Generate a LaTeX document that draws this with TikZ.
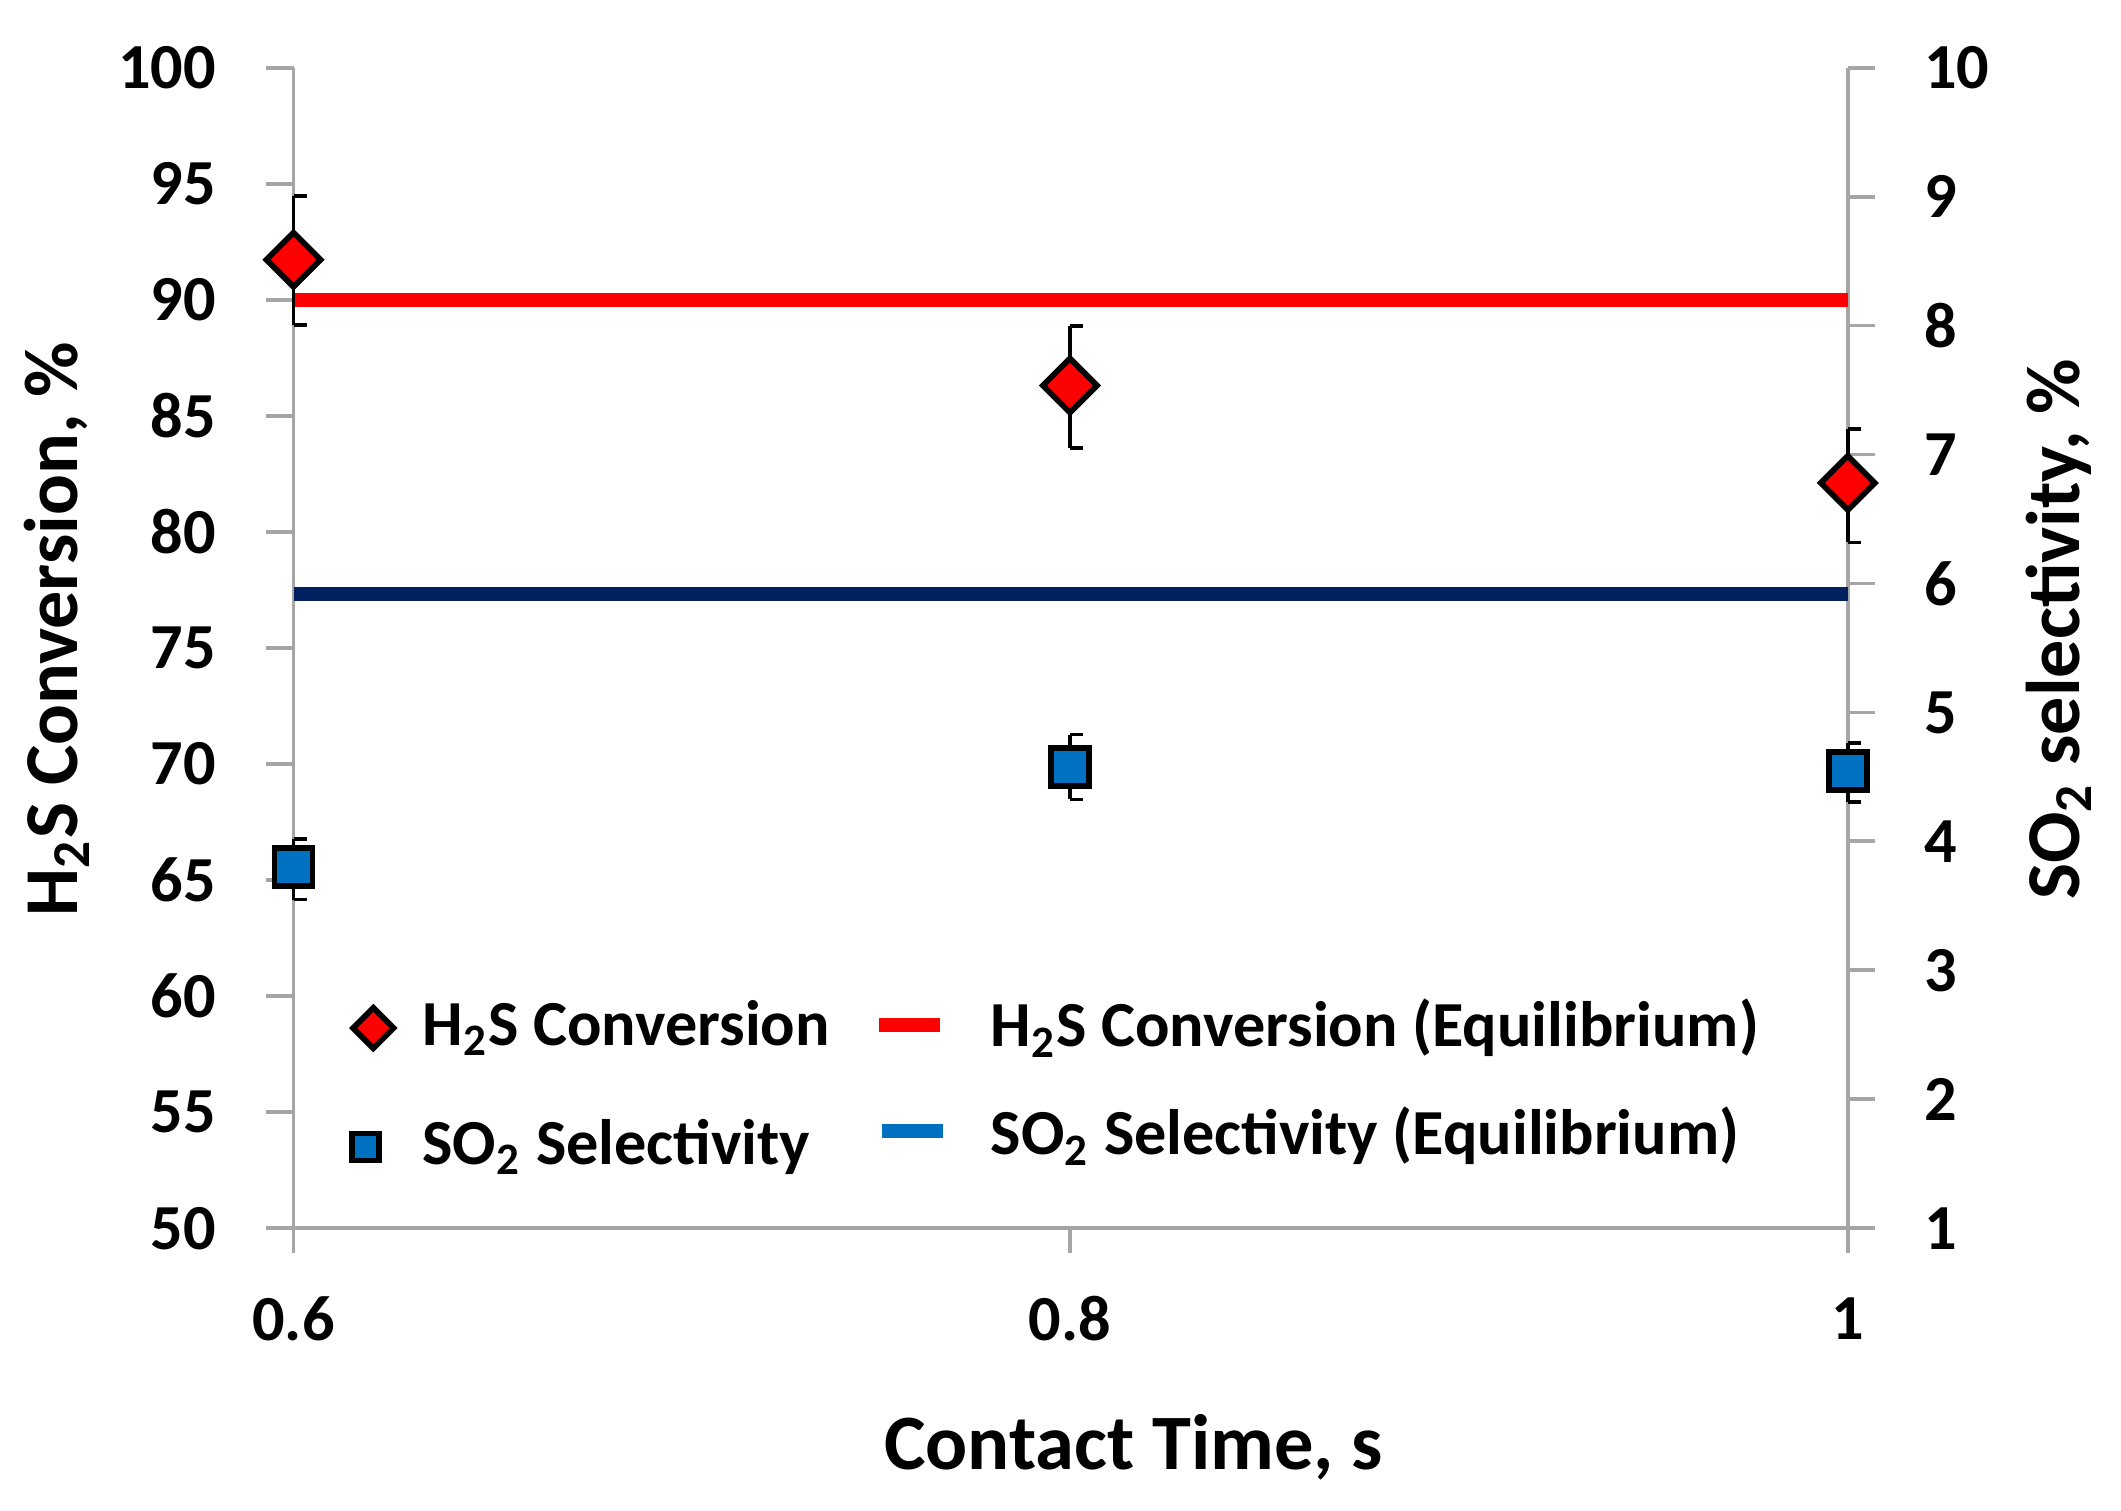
\documentclass[tikz,border=0pt]{standalone}
\usepackage{fontspec}
\setmainfont{Carlito}
\definecolor{navy}{RGB}{0,32,96}
\definecolor{mblue}{RGB}{0,112,192}
\begin{document}
\begin{tikzpicture}[x=0.01cm,y=-0.01cm,
  ax/.style={gray!70,line width=0.8pt},
  tl/.style={font=\fontsize{13.5}{15}\selectfont\bfseries},
  lg/.style={font=\fontsize{13.5}{15}\selectfont\bfseries,anchor=west},
  eb/.style={black,line width=0.8pt},
  dia/.style={draw=black,fill=red,line width=1.2pt},
  sq/.style={draw=black,fill=mblue,line width=1.2pt}]
\useasboundingbox (0,0) rectangle (1568,1117);
% axes
\draw[ax] (217,50) -- (217,908) -- (1366,908);
\draw[ax] (1366,50) -- (1366,908);
\foreach \v [count=\i from 0] in {100,95,90,85,80,75,70,65,60,55,50}{
  \pgfmathsetmacro\yy{50+\i*85.8}
  \draw[ax] (197,\yy) -- (217,\yy);
  \node[tl,anchor=east] (l\i) at (172,\yy) {\v};}
\foreach \v [count=\i from 0] in {10,9,8,7,6,5,4,3,2,1}{
  \pgfmathsetmacro\yy{50+\i*95.33}
  \draw[ax] (1366,\yy) -- (1386,\yy);
  \node[tl,anchor=west] (r\i) at (1410,\yy) {\v};}
\foreach \x/\t in {217/0.6,791/0.8,1366/1}{
  \draw[ax] (\x,908) -- (\x,926);
  \node[tl] at (\x,975) {\t};}
\node[font=\fontsize{16.5}{18}\selectfont\bfseries] (xt) at (838,1070) {Contact Time, s};
\node[font=\fontsize{16}{18}\selectfont\bfseries,rotate=90] (yl) at (42,465) {H$_\mathbf{2}$S Conversion, \%};
\node[font=\fontsize{16}{18}\selectfont\bfseries,rotate=90] (yr) at (1522,465) {SO$_\mathbf{2}$ selectivity, \%};
% equilibrium lines
\draw[red,line width=3pt] (217,222) -- (1366,222);
\draw[navy,line width=3pt] (217,439) -- (1366,439);
% error bars
\foreach \x/\a/\b in {217/145/240,791/241/331,1366/317/401,217/620/665,791/543/591,1366/549/593}{
  \draw[eb] (\x,\a) -- (\x,\b);
  \draw[eb] (\x,\a) -- (\x+10,\a);
  \draw[eb] (\x,\b) -- (\x+10,\b);}
% markers
\foreach \x/\y in {217/192,791/285,1366/357}
  \draw[dia] (\x,\y-20) -- (\x+20,\y) -- (\x,\y+20) -- (\x-20,\y) -- cycle;
\foreach \x/\y in {217/641,791/567,1366/570}
  \draw[sq] (\x-14,\y-14) rectangle (\x+14,\y+14);
% legend
\draw[dia] (276,745) -- (291,760) -- (276,775) -- (261,760) -- cycle;
\node[lg] (a) at (300,760) {H$_\mathbf{2}$S Conversion};
\draw[sq] (260,838) rectangle (280,858);
\node[lg] (b) at (300,848) {SO$_\mathbf{2}$ Selectivity};
\draw[red,line width=3pt] (650,758) -- (695,758);
\node[lg] (c) at (720,760) {H$_\mathbf{2}$S Conversion (Equilibrium)};
\draw[mblue,line width=3pt] (652,836) -- (697,836);
\node[lg] (d) at (720,840) {SO$_\mathbf{2}$ Selectivity (Equilibrium)};
\end{tikzpicture}
\end{document}
